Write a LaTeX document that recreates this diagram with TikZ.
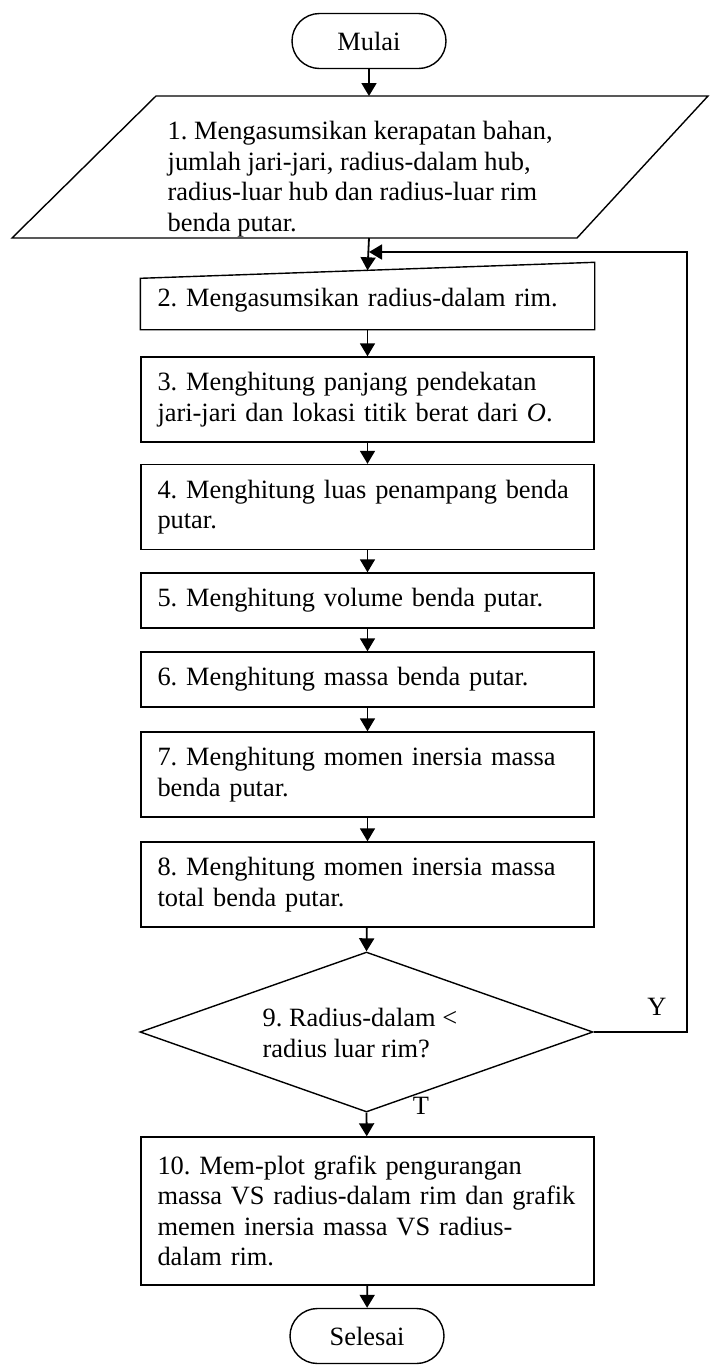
\documentclass[tikz,border=0pt]{standalone}
\usepackage{fontspec}
\setmainfont{Liberation Serif}
\frenchspacing
\usetikzlibrary{shapes.geometric,shapes.misc,arrows.meta}
\tikzset{
    txt/.style={font=\fontsize{13.2pt}{15.25pt}\selectfont},
    proc/.style={txt, draw, rectangle, text width=210pt, inner xsep=8.25pt, inner ysep=0pt, align=left},
    term/.style={txt, draw, rounded rectangle, minimum width=77pt, minimum height=27.5pt, inner sep=0pt},
    flow/.style={line width=0.9pt, -{Triangle[length=6.5pt,width=7.5pt]}}
}
\begin{document}
\begin{tikzpicture}[x=0.5pt,y=-0.5pt,line width=0.7pt]
        \useasboundingbox (0,0) rectangle (710,1367);
        % corners of the input box
        \coordinate (PA) at (156,96);
        \coordinate (PB) at (708,96);
        \coordinate (PC) at (577,238);
        \coordinate (PD) at (12,238);
        \coordinate (ptop) at (369,96);
        \coordinate (pbot) at (369,238);
        \coordinate (loopin) at (369,252);
        \coordinate (yturn) at (687,252);
        \node[term] (start) at (369,41) {Mulai};
        \draw (PA) -- (PB) -- (PC) -- (PD) -- cycle;
        \node[txt, anchor=west, align=left, inner sep=0pt] (in1) at (167,179)
            {1. Mengasumsikan kerapatan bahan,\\jumlah jari-jari, radius-dalam hub,\\radius-luar hub dan radius-luar rim\\benda putar.};
        \node[proc, draw=none, minimum height=29pt] (b2) at (367.5,300) {2. Mengasumsikan radius-dalam rim.};
        \draw (b2.south west) -- (b2.south east) -- ([yshift=4pt]b2.north east) -- ([yshift=-4pt]b2.north west) -- cycle;
        \node[proc, minimum height=42.5pt] (b3) at (367.5,399.5) {3. Menghitung panjang pendekatan\\jari-jari dan lokasi titik berat dari \textit{O}.};
        \node[proc, minimum height=42.5pt] (b4) at (367.5,507) {4. Menghitung luas penampang benda\\putar.};
        \node[proc, minimum height=27.5pt] (b5) at (367.5,600.5) {5. Menghitung volume benda putar.};
        \node[proc, minimum height=27.5pt] (b6) at (367.5,679.5) {6. Menghitung massa benda putar.};
        \node[proc, minimum height=42.5pt] (b7) at (367.5,774.5) {7. Menghitung momen inersia massa\\benda putar.};
        \node[proc, minimum height=42.5pt] (b8) at (367.5,884.5) {8. Menghitung momen inersia massa\\total benda putar.};
        \node[draw, diamond, minimum width=226.5pt, minimum height=80pt, inner sep=0pt] (d9) at (366.5,1032) {};
        \node[txt, anchor=west, align=left, inner sep=0pt] (d9txt) at (262,1033) {9. Radius-dalam <\\radius luar rim?};
        \node[proc, minimum height=74pt] (b10) at (367.5,1211)
            {10. Mem-plot grafik pengurangan\\massa VS radius-dalam rim dan grafik\\memen inersia massa VS radius-\\dalam rim.};
        \node[term] (stop) at (367,1336) {Selesai};
        \node[txt] (ylab) at (657,1007) {Y};
        \node[txt] (tlab) at (421,1106) {T};
        \draw[flow] (start) -- (ptop);
        \draw[flow] (pbot) -- (b2.north);
        \draw[flow] (b2) -- (b3);
        \draw[flow] (b3) -- (b4);
        \draw[flow] (b4) -- (b5);
        \draw[flow] (b5) -- (b6);
        \draw[flow] (b6) -- (b7);
        \draw[flow] (b7) -- (b8);
        \draw[flow] (b8) -- (d9.north);
        \draw[flow] (d9.south) -- (b10);
        \draw[flow] (b10) -- (stop);
        \draw[flow] (d9.east) -| (yturn) -- (loopin);
\end{tikzpicture}
\end{document}
